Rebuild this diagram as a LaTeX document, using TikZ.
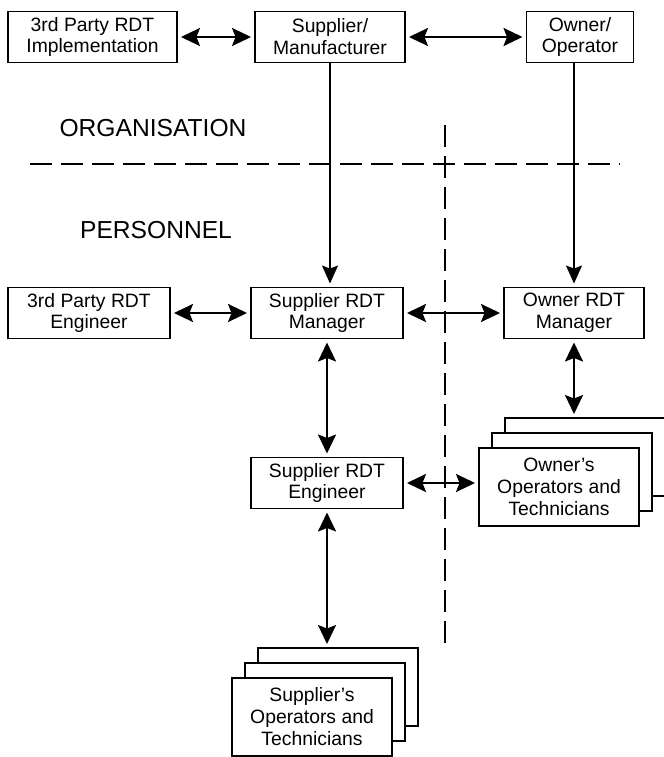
\documentclass[tikz,border=0pt]{standalone}
\usepackage{fontspec}
\setmainfont{Liberation Sans}
\usetikzlibrary{arrows.meta,shadows}
\newcommand{\boxline}{1.1pt}
\newcommand{\tip}{Stealth[length=3.8mm,width=3.6mm,inset=0.7mm]}
\tikzset{
  unit/.style={draw, line width=\boxline, fill=white, align=center, inner sep=0pt,
    minimum height=10.2mm, font=\fontsize{11}{12.5}\selectfont},
  stack/.style={unit, minimum width=32mm, minimum height=15.6mm,
    copy shadow={shadow xshift=5.2mm, shadow yshift=6mm, line width=\boxline},
    copy shadow={shadow xshift=2.6mm, shadow yshift=3mm, line width=\boxline}},
  link/.style={line width=1.3pt, {\tip}-{\tip}, shorten <=0.6mm, shorten >=0.6mm},
  feed/.style={line width=0.7pt, -{Stealth[length=3.6mm,width=3.2mm,inset=0.6mm]}, shorten >=0.6mm},
  border/.style={line width=0.8pt, dash pattern=on 4.4mm off 1.8mm},
  title/.style={font=\fontsize{14}{16}\selectfont}
}
\begin{document}
\begin{tikzpicture}[x=0.2mm, y=-0.2mm]
\useasboundingbox (0,0) rectangle (664,757);
%separators
\draw[border] (30,164) -- (620,164);
\draw[border] (445,125) -- (445,650);
\node[title] (org) at (153,128) {ORGANISATION};
\node[title] (pers) at (156,230) {PERSONNEL};
%organisation
\node[unit, minimum width=33.8mm] (impl) at (92.5,37) {3rd Party RDT\\Implementation};
\node[unit, minimum width=30mm] (manu) at (330,37) {Supplier/\\Manufacturer};
\node[unit, minimum width=21.4mm] (owner) at (580,37) {Owner/\\Operator};
%personnel
\node[unit, minimum width=32.4mm] (eng3) at (89,313) {3rd Party RDT\\Engineer};
\node[unit, minimum width=30.4mm] (smgr) at (327,313) {Supplier RDT\\Manager};
\node[unit, minimum width=28mm] (omgr) at (574,313) {Owner RDT\\Manager};
\node[unit, minimum width=30.4mm] (seng) at (327,483) {Supplier RDT\\Engineer};
\node[stack] (oteam) at (559,487) {Owner's\\Operators and\\Technicians};
\node[stack] (steam) at (312,717) {Supplier's\\Operators and\\Technicians};
\coordinate (otop) at ([yshift=6mm]oteam.north);
\coordinate (stop) at ([yshift=6mm]steam.north);
%links
\draw[link] (impl) -- (manu);
\draw[link] (manu) -- (owner);
\draw[feed] (manu.south) -- (manu.south |- smgr.north);
\draw[feed] (owner.south -| omgr) -- (omgr.north);
\draw[link] (eng3) -- (smgr);
\draw[link] (smgr) -- (omgr);
\draw[link] (smgr) -- (seng);
\draw[link] (seng.east) -- (seng.east -| oteam.west);
\draw[link] (omgr.south) -- (omgr.south |- otop);
\draw[link] (seng.south) -- (seng.south |- stop);
\end{tikzpicture}
\end{document}
